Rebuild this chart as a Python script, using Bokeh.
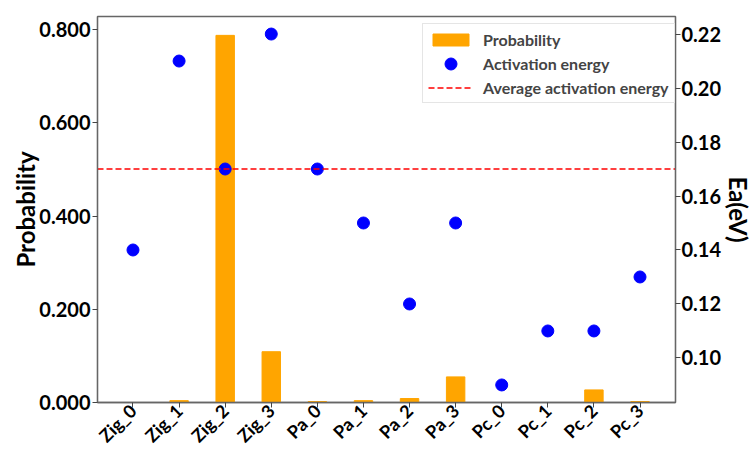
from math import pi
from bokeh.plotting import figure
from bokeh.models import (Range1d, LinearAxis, FixedTicker, NumeralTickFormatter,
                          Legend, LegendItem, ColumnDataSource)
from bokeh.embed import file_html
from bokeh.resources import INLINE

# ---- data -------------------------------------------------------------
sites = ["Zig_0", "Zig_1", "Zig_2", "Zig_3", "Pa_0", "Pa_1", "Pa_2", "Pa_3",
         "Pc_0", "Pc_1", "Pc_2", "Pc_3"]
probability = [0.0, 0.004, 0.788, 0.109, 0.002, 0.004, 0.0085, 0.055,
               0.0, 0.0, 0.027, 0.002]
activation_energy = [0.14, 0.21, 0.17, 0.22, 0.17, 0.15, 0.12, 0.15,
                     0.09, 0.11, 0.11, 0.13]
average_ea = 0.17
prob_ticks = [0.0, 0.2, 0.4, 0.6, 0.8]
ea_ticks = [0.10, 0.12, 0.14, 0.16, 0.18, 0.20, 0.22]

# ---- layout / style ---------------------------------------------------
FONT = "Lato"
X_START, X_END = -0.77, 11.77
xs = list(range(len(sites)))

src = ColumnDataSource(dict(x=xs, prob=probability, ea=activation_energy))

p = figure(width=756, height=457, output_backend="svg", toolbar_location=None,
           x_range=Range1d(X_START, X_END), y_range=Range1d(0, 0.8285),
           min_border_left=97, min_border_right=74, min_border_top=16,
           min_border_bottom=52)
p.extra_y_ranges = {"ea": Range1d(0.0835, 0.2265)}

p.xgrid.visible = False
p.ygrid.visible = False
p.outline_line_color = "#666666"
p.outline_line_width = 1.3
p.background_fill_color = "white"
p.border_fill_color = "white"

bars = p.vbar(x="x", top="prob", width=0.4, source=src, color="#FFA500")
dots = p.ellipse(x="x", y="ea", width=12, height=12, width_units="screen",
                 height_units="screen", source=src, y_range_name="ea",
                 color="#0000FF")
avg = p.line(x=[X_START, X_END], y=[average_ea, average_ea], y_range_name="ea",
             line_color="#FF0000", line_dash="6 3", line_width=1.5)

# axes
def style_axis(ax):
    ax.axis_line_color = "#666666"
    ax.axis_line_width = 1.3
    ax.major_tick_line_color = "#444444"
    ax.major_tick_out = 5
    ax.major_tick_in = 0
    ax.minor_tick_line_color = None
    ax.major_label_text_font = FONT
    ax.major_label_text_font_style = "bold"
    ax.major_label_text_font_size = "20px"
    ax.major_label_text_color = "black"
    ax.major_label_standoff = 2
    ax.axis_label_text_font = FONT
    ax.axis_label_text_font_style = "bold"
    ax.axis_label_text_font_size = "24px"
    ax.axis_label_text_color = "black"
    ax.axis_label_standoff = 0

xa = p.xaxis[0]
xa.ticker = FixedTicker(ticks=xs)
xa.major_label_overrides = {i: s for i, s in enumerate(sites)}
style_axis(xa)
xa.major_label_orientation = pi / 4
xa.major_label_text_font_size = "18px"
xa.major_label_standoff = 0

ya = p.yaxis[0]
ya.ticker = FixedTicker(ticks=prob_ticks)
ya.formatter = NumeralTickFormatter(format="0.000")
style_axis(ya)
ya.axis_label = "Probability"
ya.axis_label_standoff = -4

ra = LinearAxis(y_range_name="ea", ticker=FixedTicker(ticks=ea_ticks),
                formatter=NumeralTickFormatter(format="0.00"))
style_axis(ra)
ra.major_label_standoff = 1
ra.axis_label = "Ea(eV)"
p.add_layout(ra, "right")

legend = Legend(items=[LegendItem(label="Probability", renderers=[bars]),
                       LegendItem(label="Activation energy", renderers=[dots]),
                       LegendItem(label="Average activation energy", renderers=[avg])],
                location=(325, 299), margin=0, padding=5, spacing=4,
                glyph_width=45, glyph_height=15, label_height=20,
                label_standoff=10,
                label_text_font=FONT, label_text_font_style="bold",
                label_text_font_size="16px", label_text_baseline="middle",
                border_line_color="#cccccc", border_line_width=1,
                background_fill_color="white", background_fill_alpha=1.0)
p.add_layout(legend, "center")

open("out.html", "w").write(file_html(p, INLINE))
